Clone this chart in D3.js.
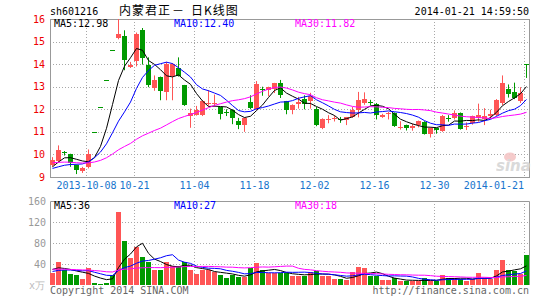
<!DOCTYPE html>
<html>
<head>
<meta charset="utf-8">
<script src="https://cdn.jsdelivr.net/npm/d3@7"></script>
<style>
  body { margin: 0; background: #fff; }
  svg { display: block; }
  text { font-family: "DejaVu Sans Mono", monospace; font-size: 10px; }
</style>
</head>
<body>
<svg width="545" height="300"></svg>
<script>
// daily bars, 2013-09-23 .. 2014-01-21
const dates = [
  "2013-09-23","2013-09-24","2013-09-25","2013-09-26","2013-09-27","2013-09-30",
  "2013-10-08","2013-10-09","2013-10-10","2013-10-11","2013-10-14","2013-10-15","2013-10-16","2013-10-17",
  "2013-10-21","2013-10-22","2013-10-23","2013-10-24","2013-10-25","2013-10-28","2013-10-29","2013-10-30","2013-10-31","2013-11-01",
  "2013-11-04","2013-11-05","2013-11-06","2013-11-07","2013-11-08","2013-11-11","2013-11-12","2013-11-13","2013-11-14","2013-11-15",
  "2013-11-18","2013-11-19","2013-11-20","2013-11-21","2013-11-22","2013-11-25","2013-11-26","2013-11-27","2013-11-28","2013-11-29",
  "2013-12-02","2013-12-03","2013-12-04","2013-12-05","2013-12-06","2013-12-09","2013-12-10","2013-12-11","2013-12-12","2013-12-13",
  "2013-12-16","2013-12-17","2013-12-18","2013-12-19","2013-12-20","2013-12-23","2013-12-24","2013-12-25","2013-12-26","2013-12-27",
  "2013-12-30","2013-12-31","2014-01-02","2014-01-03","2014-01-06","2014-01-07","2014-01-08","2014-01-09","2014-01-10",
  "2014-01-13","2014-01-14","2014-01-15","2014-01-16","2014-01-17","2014-01-20","2014-01-21"
];
const open = [
  9.55, 9.70, 10.10, 10.02, 9.52, 9.24, 9.43, 11.00, 12.10, 13.31,
  14.64, 15.13, 15.25, 13.90, 14.15, 15.50, 13.95, 12.95, 13.42, 12.78,
  13.48, 13.85, 13.06, 11.72, 11.76, 11.75, 12.25, 12.22, 12.08, 11.90,
  11.98, 11.48, 11.27, 12.33, 12.00, 12.92, 12.85, 12.88, 13.17, 12.35,
  11.98, 12.22, 12.46, 12.33, 12.03, 11.19, 11.52, 11.58, 11.57, 11.52,
  11.66, 11.96, 12.28, 12.34, 12.22, 11.67, 11.80, 11.84, 11.17, 11.30,
  11.18, 11.28, 11.45, 10.92, 11.15, 11.07, 11.60, 11.64, 11.84, 11.18,
  11.37, 11.60, 11.56, 11.73, 11.74, 12.25, 12.92, 12.76, 12.37, 13.99
];
const high = [
  9.88, 10.40, 10.15, 10.03, 9.55, 9.45, 10.22, 11.00, 12.10, 13.31,
  14.64, 16.05, 15.50, 14.10, 15.40, 15.60, 14.30, 13.50, 13.45, 14.10,
  14.05, 14.30, 13.08, 12.03, 12.15, 12.40, 12.85, 12.65, 12.10, 12.00,
  12.00, 11.62, 11.64, 12.62, 13.25, 13.00, 13.00, 13.17, 13.30, 12.37,
  12.22, 12.55, 12.62, 12.73, 12.10, 11.60, 11.74, 11.72, 11.66, 11.66,
  12.10, 12.77, 12.75, 12.42, 12.28, 11.80, 11.88, 11.86, 11.47, 11.32,
  11.36, 11.50, 11.47, 11.20, 11.18, 11.75, 11.74, 11.95, 11.86, 11.42,
  11.72, 12.25, 12.05, 11.98, 12.45, 13.50, 13.10, 13.18, 12.98, 13.99
];
const low = [
  9.45, 9.65, 9.95, 9.45, 9.13, 9.18, 9.38, 11.00, 12.10, 13.31,
  14.64, 15.10, 13.73, 13.83, 13.90, 13.98, 12.98, 12.82, 12.40, 12.40,
  12.40, 13.45, 12.15, 11.18, 11.72, 11.70, 12.15, 12.12, 11.55, 11.70,
  11.34, 11.12, 11.00, 12.00, 11.96, 12.60, 12.58, 12.72, 12.50, 11.78,
  11.78, 12.03, 12.00, 12.03, 11.25, 11.12, 11.38, 11.46, 11.40, 11.30,
  11.62, 11.64, 12.20, 12.18, 11.55, 11.62, 11.55, 11.22, 11.10, 11.06,
  11.05, 11.20, 10.88, 10.75, 10.92, 11.00, 11.45, 11.55, 11.10, 11.08,
  11.32, 11.45, 11.30, 11.58, 11.70, 12.18, 12.52, 12.45, 12.28, 13.39
];
const close = [
  9.75, 10.18, 10.06, 9.63, 9.30, 9.38, 10.00, 11.00, 12.10, 13.31,
  14.64, 15.32, 14.17, 13.98, 15.35, 14.25, 13.06, 13.30, 12.81, 14.00,
  14.00, 13.50, 12.18, 11.85, 11.96, 12.35, 12.28, 12.26, 11.76, 11.87,
  11.64, 11.30, 11.60, 12.05, 13.12, 12.88, 12.97, 13.15, 12.62, 11.97,
  12.18, 12.33, 12.24, 12.57, 11.30, 11.57, 11.56, 11.62, 11.54, 11.64,
  11.96, 12.40, 12.45, 12.31, 11.75, 11.76, 11.84, 11.25, 11.21, 11.18,
  11.28, 11.47, 10.92, 11.18, 11.08, 11.72, 11.58, 11.84, 11.15, 11.24,
  11.69, 11.74, 11.70, 11.80, 12.40, 13.15, 12.68, 12.50, 12.72, 13.99
];
// volume, 10k shares
const volume = [
  22.5, 43, 29, 20.5, 18.5, 11, 31.5, 3.5, 1.5, 3.5,
  18.5, 139, 83, 51, 71.5, 53, 43, 28, 28, 43,
  37, 37, 43, 28, 20.5, 28, 28, 24, 20, 13,
  20, 15.5, 15.5, 33, 41, 29, 22.5, 22.5, 22.5, 22.5,
  17, 17, 18, 25, 27.5, 16.5, 16.5, 11, 11, 9,
  24, 33.5, 31.5, 16.5, 17.5, 9, 9, 13.5, 7.5, 7.5,
  7.5, 7.5, 13.5, 7.5, 8, 18.5, 14, 13.5, 10.5, 7.5,
  10.5, 22, 14, 10.5, 29.5, 48.5, 29.5, 26, 20.5, 58
];
// sessions before the window, needed for the moving averages at the left edge
const priorCloses = [
  9.62, 9.70, 9.85, 9.92, 9.80, 9.74, 9.88, 9.95, 9.83, 9.70,
  9.66, 9.78, 9.90, 9.81, 9.64, 9.58, 9.72, 9.75, 9.68, 9.59,
  9.45, 9.38, 9.30, 9.22, 9.20, 9.10, 9.14, 9.60, 9.66
];
const priorVolumes = [
  35, 28, 41, 30, 26, 38, 33, 29, 45, 31,
  27, 36, 30, 24, 39, 32, 28, 34, 26, 28,
  24, 20, 22, 25, 19, 28, 35, 30, 33
];
const tickDates = ["2013-10-08","2013-10-21","2013-11-04","2013-11-18","2013-12-02","2013-12-16","2013-12-30","2014-01-21"];
const tickLabels = ["2013-10-08","10-21","11-04","11-18","12-02","12-16","12-30","2014-01-21"];
const priceTicks = [9, 10, 11, 12, 13, 14, 15, 16];
const volumeTicks = [40, 80, 120, 160];
const priceLegend = ["MA5:12.98", "MA10:12.40", "MA30:11.82"];
const volumeLegend = ["MA5:36", "MA10:27", "MA30:18"];
const maPeriods = [5, 10, 30];
const maColors = ["#000", "#00f", "#f0f"];

const RED = "#ff5555", GREEN = "#009900", GRID = "#a8a8a8", BORDER = "#999";

const svg = d3.select("svg");
const left = 50, right = 530;
const mainTop = 19, mainBottom = 177;
const volTop = 201, volBottom = 285;

const x = d3.scaleBand().domain(dates).range([left, right]);
const bodyW = x.bandwidth() - 1;
const cx = d => x(d) + bodyW / 2;
const y = d3.scaleLinear().domain([9, 16]).range([mainBottom, mainTop]);
const yv = d3.scaleLinear().domain([0, 160]).range([volBottom, volTop]);

const isUp = i => close[i] > open[i];
const colour = i => isUp(i) ? RED : GREEN;

function movingAverage(values, prior, n) {
  const all = prior.concat(values);
  return values.map((_, i) => d3.mean(all.slice(i + prior.length - n + 1, i + prior.length + 1)));
}

svg.append("defs").append("clipPath").attr("id", "mainClip")
  .append("rect").attr("x", left).attr("y", mainTop).attr("width", right - left).attr("height", mainBottom - mainTop);

// ---- header
svg.append("text").attr("x", 50).attr("y", 15).text("sh601216");
const titleParts = [["内蒙君正", 119], ["－", 172], ["日K线图", 191]];
svg.append("g").selectAll("text").data(titleParts).join("text")
  .attr("x", d => d[1]).attr("y", 15)
  .style("font-family", "'Noto Sans CJK SC', sans-serif").style("font-size", "12px")
  .style("letter-spacing", "1px")
  .text(d => d[0]);
svg.append("text").attr("x", 529).attr("y", 15).attr("text-anchor", "end").text("2014-01-21 14:59:50");

// ---- grids
const grid = svg.append("g").attr("stroke", GRID).attr("stroke-dasharray", "1,2");
grid.selectAll(".hp").data(priceTicks.filter(v => v > 9 && v < 16)).join("line")
  .attr("x1", left).attr("x2", right)
  .attr("y1", d => Math.round(y(d)) + 0.5).attr("y2", d => Math.round(y(d)) + 0.5);
grid.selectAll(".hv").data(volumeTicks.filter(v => v < 160)).join("line")
  .attr("x1", left).attr("x2", right)
  .attr("y1", d => Math.round(yv(d)) + 0.5).attr("y2", d => Math.round(yv(d)) + 0.5);
tickDates.forEach(d => {
  const gx = x(d) + 0.5;
  grid.append("line").attr("x1", gx).attr("x2", gx).attr("y1", mainTop).attr("y2", mainBottom);
  grid.append("line").attr("x1", gx).attr("x2", gx).attr("y1", volTop).attr("y2", volBottom);
});

// ---- borders
svg.append("rect").attr("x", left + 0.5).attr("y", mainTop + 0.5)
  .attr("width", right - left - 1).attr("height", mainBottom - mainTop)
  .attr("fill", "none").attr("stroke", BORDER);
svg.append("path")
  .attr("d", `M${left + 0.5},${volBottom}V${volTop + 0.5}H${right - 0.5}V${volBottom}`)
  .attr("fill", "none").attr("stroke", BORDER);

// ---- axis labels
svg.append("g").selectAll("text").data(priceTicks).join("text")
  .attr("x", 45).attr("y", d => y(d) + 3.5).attr("text-anchor", "end")
  .attr("fill", "#e00").text(d => d);
svg.append("g").selectAll("text").data(volumeTicks).join("text")
  .attr("x", 46).attr("y", d => yv(d) + 3.5).attr("text-anchor", "end")
  .attr("fill", "#999").text(d => d);
svg.append("text").attr("x", 29).attr("y", 289).attr("fill", "#bbb").text("x万");

svg.append("g").selectAll("text").data(tickDates).join("text")
  .attr("x", (d, i) => i === tickDates.length - 1 ? x(d) : x(d) + 0.5)
  .attr("y", 189)
  .attr("text-anchor", (d, i) => i === tickDates.length - 1 ? "end" : "middle")
  .attr("fill", "#1874cd")
  .text((d, i) => tickLabels[i]);

// ---- watermark
const mark = svg.append("g").attr("opacity", 0.9);
mark.append("ellipse").attr("cx", 510).attr("cy", 157).attr("rx", 6).attr("ry", 4.5).attr("fill", "#f5c6c6");
mark.append("text").attr("x", 496).attr("y", 171)
  .style("font-family", "'DejaVu Sans', sans-serif").style("font-size", "15px")
  .style("font-style", "italic").style("font-weight", "bold")
  .attr("fill", "#d6d6d6").text("sina");

// ---- candles
const idx = d3.range(dates.length);
const candles = svg.append("g").attr("clip-path", "url(#mainClip)");
candles.selectAll("line").data(idx).join("line")
  .attr("x1", i => Math.floor(cx(dates[i])) + 0.5).attr("x2", i => Math.floor(cx(dates[i])) + 0.5)
  .attr("y1", i => y(high[i])).attr("y2", i => y(low[i]))
  .attr("stroke", colour);
candles.selectAll("rect").data(idx).join("rect")
  .attr("x", i => x(dates[i])).attr("width", bodyW)
  .attr("y", i => Math.round(y(Math.max(open[i], close[i]))))
  .attr("height", i => Math.max(1, Math.round(Math.abs(y(open[i]) - y(close[i])))))
  .attr("fill", colour);

// ---- volume bars
svg.append("g").selectAll("rect").data(idx).join("rect")
  .attr("x", i => x(dates[i])).attr("width", bodyW)
  .attr("y", i => Math.round(yv(volume[i])))
  .attr("height", i => volBottom - Math.round(yv(volume[i])))
  .attr("fill", colour);

// ---- moving averages
const priceLine = d3.line().x((v, i) => cx(dates[i])).y(v => y(v));
const volLine = d3.line().x((v, i) => cx(dates[i])).y(v => yv(v));
maPeriods.forEach((n, k) => {
  svg.append("path").attr("clip-path", "url(#mainClip)")
    .attr("d", priceLine(movingAverage(close, priorCloses, n)))
    .attr("fill", "none").attr("stroke", maColors[k]).attr("stroke-width", 1);
  svg.append("path")
    .attr("d", volLine(movingAverage(volume, priorVolumes, n)))
    .attr("fill", "none").attr("stroke", maColors[k]).attr("stroke-width", 1);
});

// ---- legends
const legendX = [54, 174, 295];
svg.append("g").selectAll("text").data(priceLegend).join("text")
  .attr("x", (d, i) => legendX[i]).attr("y", 27).attr("fill", (d, i) => maColors[i]).text(d => d);
svg.append("g").selectAll("text").data(volumeLegend).join("text")
  .attr("x", (d, i) => legendX[i]).attr("y", 209).attr("fill", (d, i) => maColors[i]).text(d => d);

// ---- footer
svg.append("text").attr("x", 50).attr("y", 294).attr("fill", "#666").text("Copyright 2014 SINA.COM");
svg.append("text").attr("x", 529).attr("y", 294).attr("text-anchor", "end").attr("fill", "#666").text("http://finance.sina.com.cn");
</script>
</body>
</html>
